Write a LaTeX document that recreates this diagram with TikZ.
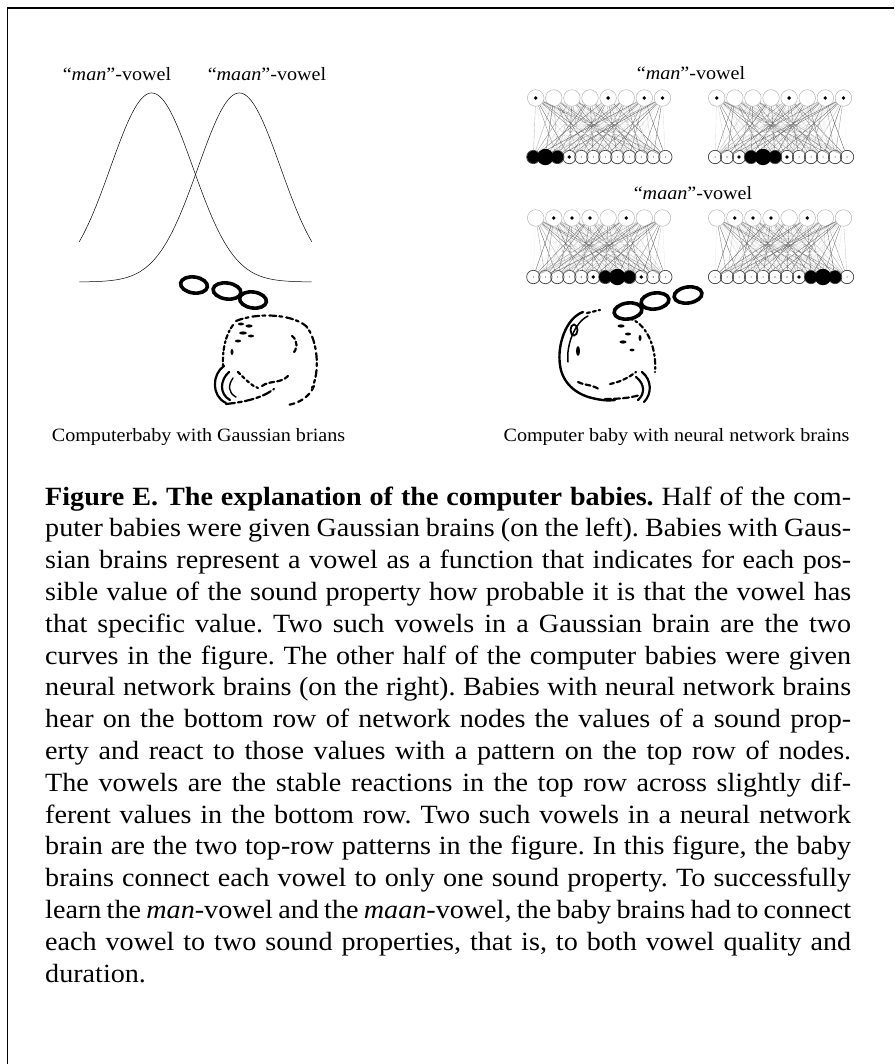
\documentclass[tikz,border=0pt]{standalone}
\usepackage{fontspec}
\setmainfont{Liberation Serif}[FakeStretch=1.07]
\frenchspacing
\begin{document}
% One network: name, top-row x0, top y, bottom-row x0, bottom y,
% active top nodes, bottom activation radii (12), seed for wire shades
\newcommand\drawnetwork[8]{%
  \foreach \i in {1,...,8}
    \node[topnode] (#1t\i) at ({#2+18.1*(\i-1)},#3) {};
  \foreach \j in {1,...,12}
    \node[botnode] (#1b\j) at ({#4+12*(\j-1)},#5) {};
  \foreach \i in {1,...,8}{
    \foreach \j in {1,...,12}{
      \pgfmathtruncatemacro\shade{5+62*abs(sin(\i*83+\j*47+#8))^2}
      \draw[wire, draw=black!\shade] (#1t\i) -- (#1b\j);
    }
  }
  \foreach \i in {#6}
    \fill (#1t\i) circle (1.9);
  \foreach \r [count=\j] in {#7}
    \fill (#1b\j) circle (\r);
}
\begin{tikzpicture}[x=1pt,y=-1pt,
  topnode/.style={circle, draw=black!30, line width=0.5pt, minimum size=16.6pt, inner sep=0pt},
  botnode/.style={circle, draw=black!75, line width=0.7pt, minimum size=13.4pt, inner sep=0pt},
  wire/.style={line width=0.35pt},
  bubble/.style={line width=3.6pt},
  headline/.style={line width=2.2pt, line cap=round},
  smalltext/.style={font=\fontsize{18.8}{22}\selectfont, inner sep=0pt},
  capline/.style={anchor=base west, inner sep=0pt, font=\fontsize{26.3}{31.8}\selectfont},
]
\useasboundingbox (0,0) rectangle (894,1064);
% frame
\draw[line width=1.5pt] (7.5,1064) -- (7.5,8) -- (894,8);

% ---------- Gaussian brain ----------
\node[smalltext] (lman) at (117,74) {“\textit{man}”-vowel};
\node[smalltext] (lmaan) at (267,74) {“\textit{maan}”-vowel};
\draw[line width=0.5pt] plot[domain=79.3:311.7, samples=140, smooth]
  (\x, {282-189*exp(-0.5*((\x-151.7)/41.2)*((\x-151.7)/41.2))});
\draw[line width=0.5pt] plot[domain=79.3:311.7, samples=140, smooth]
  (\x, {282-189*exp(-0.5*((\x-239.3)/41.2)*((\x-239.3)/41.2))});

% thought bubbles
\draw[bubble, rotate around={-8:(194,285)}] (194,285) ellipse [x radius=13.5, y radius=8];
\draw[bubble, rotate around={-8:(227,291)}] (227,291) ellipse [x radius=14, y radius=8];
\draw[bubble, rotate around={-8:(253,300)}] (253,300) ellipse [x radius=13.5, y radius=8];

% baby head, facing left
\draw[headline, dash pattern=on 7pt off 3pt on 3pt off 4pt] (236,321) .. controls (255,313) and (290,313) .. (306,326) .. controls (318,340) and (320,372) .. (312,388);
\draw[headline, dash pattern=on 5pt off 4pt] (314,386) .. controls (310,396) and (300,403) .. (288,405);
\draw[headline, dash pattern=on 4pt off 2.5pt on 2pt off 3pt] (233,325) .. controls (226,334) and (222,350) .. (223,366);
\draw[headline] (224,366) .. controls (212,374) and (211,396) .. (226,403);
\draw[headline] (229,372) .. controls (220,380) and (219,394) .. (230,400);
\draw[headline, line width=1.4pt] (233,378) .. controls (228,385) and (228,393) .. (236,397);
\draw[headline, dash pattern=on 9pt off 3pt on 4pt off 3pt] (226,404) .. controls (245,402) and (262,398) .. (274,389);
\draw[headline, dash pattern=on 3pt off 3pt] (238,372) .. controls (246,380) and (252,386) .. (258,388);
\draw[headline, dash pattern=on 4pt off 3pt] (292,336) .. controls (298,340) and (298,350) .. (292,354);
\draw[headline, dash pattern=on 5pt off 3pt] (262,386) .. controls (270,380) and (280,384) .. (288,376);
\fill (241,324) ellipse [x radius=3, y radius=1.5];
\fill (249,326) ellipse [x radius=3.5, y radius=1.6];
\fill (243,333) ellipse [x radius=4, y radius=1.6];
\fill (238,341) ellipse [x radius=3, y radius=1.5];
\fill (251,336) ellipse [x radius=3, y radius=1.4];
\fill (232,352) ellipse [x radius=1.5, y radius=3];

\node[smalltext] (lcap) at (198.5,437) {Computerbaby with Gaussian brians};

% ---------- neural network brain ----------
\node[smalltext] (rman) at (691,73) {“\textit{man}”-vowel};
\node[smalltext] (rmaan) at (693,193) {“\textit{maan}”-vowel};

\drawnetwork{A}{535.7}{98}{533.3}{157}{1,5,7,8}{6.3,8.2,6.3,1.9,0.5,0.5,0.5,0.5,0.5,0.5,0.5,0.5}{11}
\drawnetwork{B}{716.7}{98}{715}{157}{1,5,7,8}{0.5,0.6,1.9,6.3,8.2,6.3,1.9,0.5,0.5,0.5,0.5,0.5}{29}
\drawnetwork{C}{535.7}{218}{533.3}{277}{2,3,4,6}{0.5,0.5,0.5,0.5,0.6,1.9,6.3,8.2,6.3,1.9,0.6,0.5}{47}
\drawnetwork{D}{716.7}{218}{715}{277}{2,3,4,6}{0.5,0.5,0.5,0.5,0.5,0.6,0.6,1.9,6.3,8.2,6.3,0.5}{63}

% thought bubbles
\draw[bubble, rotate around={8:(628,311)}] (628,311) ellipse [x radius=14, y radius=8];
\draw[bubble, rotate around={8:(655,301)}] (655,301) ellipse [x radius=14, y radius=8];
\draw[bubble, rotate around={8:(688,295)}] (688,295) ellipse [x radius=14, y radius=8];

% baby head, facing right
\draw[headline, line width=2.4pt] (583,312) .. controls (566,318) and (557,345) .. (560,365) .. controls (562,382) and (575,394) .. (592,398) .. controls (600,400) and (608,401) .. (615,400);
\draw[headline, line width=1.5pt] (588,316) .. controls (575,322) and (566,345) .. (568,362);
\draw[headline, line width=1.8pt] (574,330) ellipse [x radius=3.5, y radius=5.5];
\fill (578,351) ellipse [x radius=2, y radius=5];
\draw[headline, dash pattern=on 3pt off 3pt] (587,313) -- (600,310);
\draw[headline, dash pattern=on 5pt off 3pt on 2pt off 3pt] (628,318) .. controls (645,322) and (657,345) .. (655,372);
\draw[headline] (642,372) .. controls (652,380) and (652,394) .. (644,402);
\draw[headline] (636,377) .. controls (645,384) and (645,394) .. (638,400);
\draw[headline, dash pattern=on 6pt off 3pt] (605,399) .. controls (618,399) and (630,398) .. (640,395);
\draw[headline, dash pattern=on 5pt off 3pt] (578,382) .. controls (586,386) and (592,384) .. (600,390);
\draw[headline, dash pattern=on 4pt off 3pt] (610,384) .. controls (620,382) and (628,378) .. (636,372);
\fill (621,326) ellipse [x radius=3.5, y radius=1.6];
\fill (628,334) ellipse [x radius=3, y radius=1.5];
\fill (623,342) ellipse [x radius=3.5, y radius=1.6];
\fill (632,350) ellipse [x radius=2.5, y radius=1.4];
\fill (640,338) ellipse [x radius=1.5, y radius=3];

\node[smalltext] (rcap) at (676.5,437) {Computer baby with neural network brains};

% ---------- caption ----------
\node[capline] (cap1) at (45,505.0) {\makebox[806pt][s]{\textbf{Figure E. The explanation of the computer babies.} Half of the com-}};
\node[capline] (cap2) at (45,536.8) {\makebox[806pt][s]{puter babies were given Gaussian brains (on the left). Babies with Gaus-}};
\node[capline] (cap3) at (45,568.6) {\makebox[806pt][s]{sian brains represent a vowel as a function that indicates for each pos-}};
\node[capline] (cap4) at (45,600.4) {\makebox[806pt][s]{sible value of the sound property how probable it is that the vowel has}};
\node[capline] (cap5) at (45,632.2) {\makebox[806pt][s]{that specific value. Two such vowels in a Gaussian brain are the two}};
\node[capline] (cap6) at (45,664.0) {\makebox[806pt][s]{curves in the figure. The other half of the computer babies were given}};
\node[capline] (cap7) at (45,695.8) {\makebox[806pt][s]{neural network brains (on the right). Babies with neural network brains}};
\node[capline] (cap8) at (45,727.6) {\makebox[806pt][s]{hear on the bottom row of network nodes the values of a sound prop-}};
\node[capline] (cap9) at (45,759.4) {\makebox[806pt][s]{erty and react to those values with a pattern on the top row of nodes.}};
\node[capline] (cap10) at (45,791.2) {\makebox[806pt][s]{The vowels are the stable reactions in the top row across slightly dif-}};
\node[capline] (cap11) at (45,823.0) {\makebox[806pt][s]{ferent values in the bottom row. Two such vowels in a neural network}};
\node[capline] (cap12) at (45,854.8) {\makebox[806pt][s]{brain are the two top-row patterns in the figure. In this figure, the baby}};
\node[capline] (cap13) at (45,886.6) {\makebox[806pt][s]{brains connect each vowel to only one sound property. To successfully}};
\node[capline] (cap14) at (45,918.4) {\makebox[806pt][s]{learn the \textit{man}-vowel and the \textit{maan}-vowel, the baby brains had to connect}};
\node[capline] (cap15) at (45,950.2) {\makebox[806pt][s]{each vowel to two sound properties, that is, to both vowel quality and}};
\node[capline] (cap16) at (45,982.0) {duration.};
\end{tikzpicture}
\end{document}
